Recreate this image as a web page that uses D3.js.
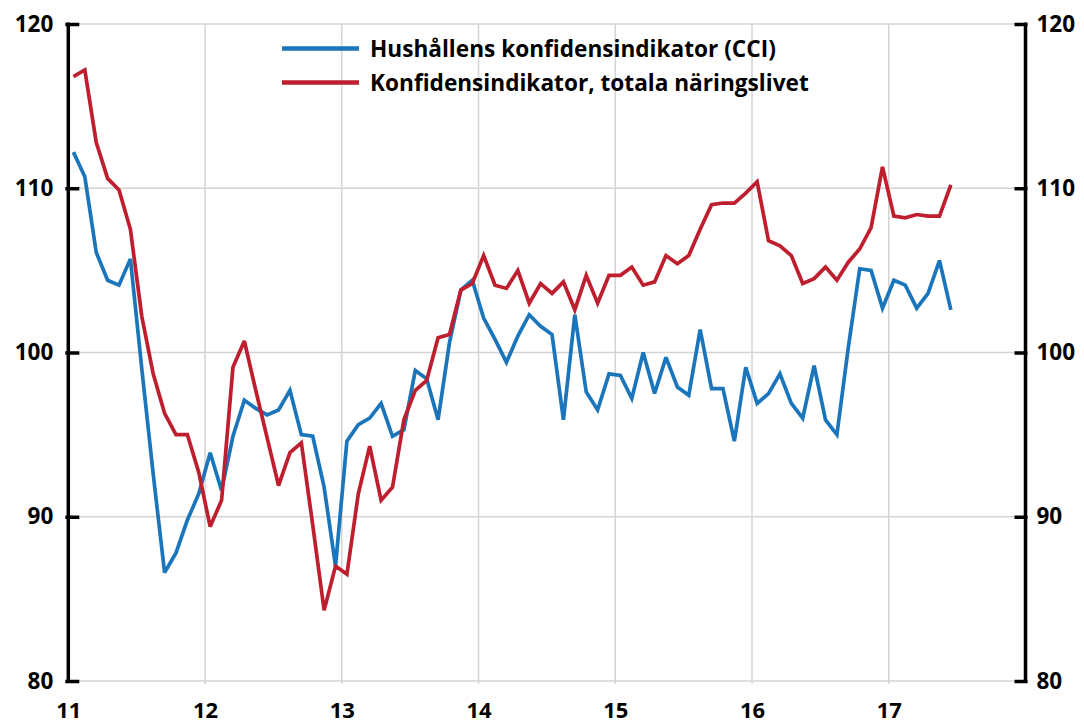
<!DOCTYPE html>
<html>
<head>
<meta charset="utf-8">
<script src="https://cdn.jsdelivr.net/npm/d3@7"></script>
<style>
  html, body { margin: 0; padding: 0; background: #fff; }
  svg { display: block; }
  text { font-family: "Open Sans", "Liberation Sans", sans-serif; font-weight: 700; fill: #000; }
</style>
</head>
<body>
<svg id="chart" width="1084" height="727"></svg>
<script>
// ---- Data (monthly, Jan 2011 – Jun 2017) ----
const startYear = 2011;
const seriesNames = ["Hushållens konfidensindikator (CCI)", "Konfidensindikator, totala näringslivet"];
const xTickLabels = ["11", "12", "13", "14", "15", "16", "17"];
const yTickValues = [80, 90, 100, 110, 120];

const cci = [
  112.2, 110.7, 106.1, 104.4, 104.1, 105.7, 99.0, 92.6, 86.6, 87.8, 89.8, 91.4,
  93.9, 91.6, 94.9, 97.1, 96.6, 96.2, 96.5, 97.7, 95.0, 94.9, 91.8, 87.0,
  94.6, 95.6, 96.0, 96.9, 94.9, 95.3, 98.9, 98.4, 95.9, 100.6, 103.8, 104.4,
  102.1, 100.8, 99.4, 101.0, 102.3, 101.6, 101.1, 95.9, 102.3, 97.6, 96.5, 98.7,
  98.6, 97.2, 100.0, 97.5, 99.7, 97.9, 97.4, 101.4, 97.8, 97.8, 94.6, 99.1,
  96.9, 97.5, 98.7, 96.9, 96.0, 99.2, 95.9, 95.0, 100.3, 105.1, 105.0, 102.7,
  104.4, 104.1, 102.7, 103.6, 105.6, 102.6
];
const business = [
  116.8, 117.2, 112.8, 110.6, 109.9, 107.5, 102.2, 98.7, 96.3, 95.0, 95.0, 92.7,
  89.4, 91.0, 99.1, 100.7, 97.7, 94.8, 91.9, 93.9, 94.5, 89.5, 84.3, 87.0,
  86.5, 91.4, 94.3, 91.0, 91.8, 95.9, 97.7, 98.3, 100.9, 101.1, 103.8, 104.2,
  105.9, 104.1, 103.9, 105.0, 103.0, 104.2, 103.6, 104.3, 102.6, 104.7, 103.0, 104.7,
  104.7, 105.2, 104.1, 104.3, 105.9, 105.4, 105.9, 107.5, 109.0, 109.1, 109.1, 109.7,
  110.4, 106.8, 106.5, 105.9, 104.2, 104.5, 105.2, 104.4, 105.5, 106.3, 107.6, 111.3,
  108.3, 108.2, 108.4, 108.3, 108.3, 110.2
];
const colors = ["#1b75bb", "#be1e2d"];

// ---- Layout ----
const svg = d3.select("#chart");
const L = 68.3, R = 1025.5, T = 24, B = 681;

const x = d3.scaleLinear().domain([2011, 2018]).range([L, R]);
const y = d3.scaleLinear().domain([80, 120]).range([B, T]);
const monthPos = i => startYear + (i + 0.45) / 12;

// Grid
const grid = svg.append("g");
grid.selectAll("line.h").data(yTickValues).join("line")
  .attr("x1", L).attr("x2", R)
  .attr("y1", d => y(d)).attr("y2", d => y(d))
  .attr("stroke", "#d4d4d4").attr("stroke-width", 1.5);
grid.selectAll("line.v").data(d3.range(2012, 2018)).join("line")
  .attr("x1", d => x(d)).attr("x2", d => x(d))
  .attr("y1", T).attr("y2", B + 3)
  .attr("stroke", "#d4d4d4").attr("stroke-width", 1.5);

// Lines
const line = d3.line().x((d, i) => x(monthPos(i))).y(d => y(d));
[cci, business].forEach((s, k) => {
  svg.append("path").datum(s)
    .attr("d", line)
    .attr("fill", "none")
    .attr("stroke", colors[k])
    .attr("stroke-width", 3.7)
    .attr("stroke-linejoin", "miter")
    .attr("stroke-miterlimit", 3);
});

// Axes
const leftAxis = d3.axisLeft(y).tickValues(yTickValues).tickSizeInner(-11).tickSizeOuter(0).tickPadding(22);
const rightAxis = d3.axisRight(y).tickValues(yTickValues).tickSizeInner(-11).tickSizeOuter(0).tickPadding(22);
const gl = svg.append("g").attr("transform", `translate(${L},0)`).call(leftAxis);
const gr = svg.append("g").attr("transform", `translate(${R},0)`).call(rightAxis);
[gl, gr].forEach(g => {
  g.select(".domain").attr("stroke", "#000").attr("stroke-width", 3.5);
  g.selectAll(".tick line").attr("stroke", "#000").attr("stroke-width", 3.5);
  g.selectAll(".tick text").attr("font-size", 22.5).attr("font-family", "Open Sans").attr("font-weight", 700).attr("fill", "#000");
});
gl.selectAll(".tick line").attr("x1", -3);
gr.selectAll(".tick line").attr("x1", 2);
gl.select(".domain").attr("d", `M0,${B + 1.5}V${T - 1.5}`);
gr.select(".domain").attr("d", `M0,${B + 1.5}V${T - 1.5}`);
gl.selectAll(".tick text").attr("x", -15);
gr.selectAll(".tick text").attr("x", 11);

// X axis labels
const xAxis = d3.axisBottom(x).tickValues(d3.range(2011, 2018)).tickSize(0).tickPadding(0)
  .tickFormat((d, i) => xTickLabels[i]);
const gx = svg.append("g").attr("transform", `translate(0,${B})`).call(xAxis);
gx.select(".domain").remove();
gx.selectAll(".tick text").attr("font-size", 22).attr("font-family", "Open Sans").attr("font-weight", 700)
  .attr("fill", "#000").attr("dy", null).attr("y", 37);

// Legend
const legend = svg.append("g");
const legY = [48.5, 82.5];
seriesNames.forEach((name, k) => {
  legend.append("line")
    .attr("x1", 282).attr("x2", 359)
    .attr("y1", legY[k]).attr("y2", legY[k])
    .attr("stroke", colors[k]).attr("stroke-width", 4.5);
  legend.append("text")
    .attr("class", "lt")
    .attr("x", 0).attr("y", 0)
    .attr("font-size", 23.5)
    .text(name);
});
const lt = legend.selectAll("text.lt").nodes();
const w0 = lt[0].getComputedTextLength();
const sx = 406 / w0;
lt.forEach((n, k) => {
  d3.select(n).attr("transform", `translate(370,${legY[k] + 8.4}) scale(${sx},1)`);
});
</script>
</body>
</html>
